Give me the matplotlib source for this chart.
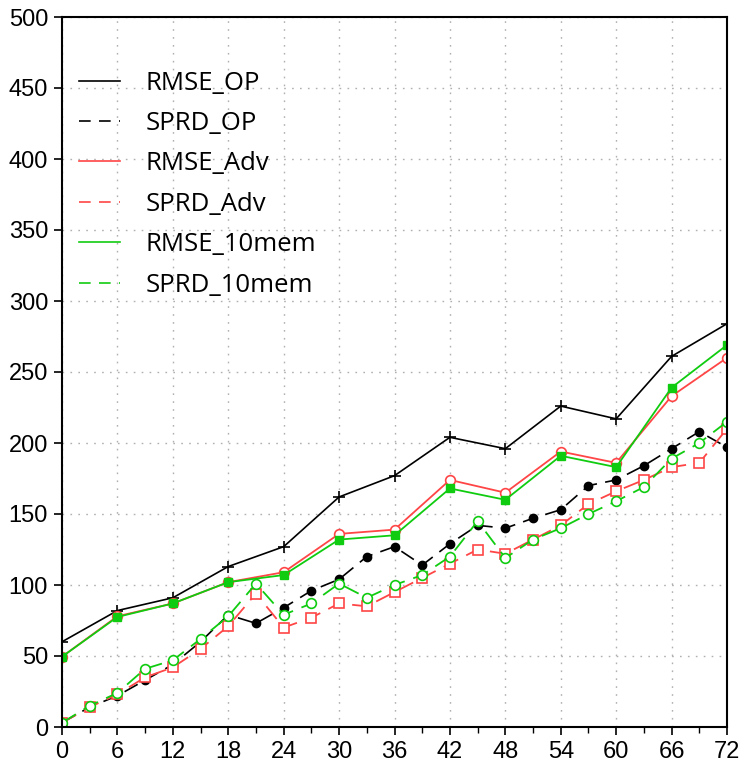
import matplotlib
matplotlib.use("Agg")
import matplotlib.pyplot as plt
from matplotlib.lines import Line2D
from matplotlib.ticker import MultipleLocator

hours6 = [0, 6, 12, 18, 24, 30, 36, 42, 48, 54, 60, 66, 72]
hours3 = list(range(0, 73, 3))

rmse_op = [60, 82, 91, 113, 127, 162, 177, 204, 196, 226, 217, 261, 284]
rmse_adv = [49.5, 78, 87, 102, 109, 136, 139, 174, 165, 194, 186, 233, 260]
rmse_10mem = [49.5, 77.5, 87, 102, 107, 132, 135, 168, 160, 191, 183, 239, 269]

sprd_op = [3, 14, 22, 33, 44, 60, 79, 73, 84, 96, 104, 120, 127, 114, 129,
           142, 140, 147, 153, 170, 174, 184, 196, 208, 197]
sprd_adv = [3, 14, 23, 35, 42, 55, 71, 94, 70, 77, 87, 85, 95, 105, 115,
            125, 122, 132, 142, 157, 166, 174, 183, 186, 210]
sprd_10mem = [3, 15, 24, 41, 47, 62, 78, 101, 79, 87, 101, 91, 100, 107, 120,
              145, 119, 132, 140, 150, 159, 169, 189, 200, 215]

labels = ["RMSE_OP", "SPRD_OP", "RMSE_Adv", "SPRD_Adv", "RMSE_10mem", "SPRD_10mem"]

RED = "#ff4545"
GREEN = "#10cc10"
dash = (0, (9, 5))

fig = plt.figure(figsize=(7.4, 7.67), dpi=100)
ax = fig.add_axes([62/740, 40/767, 665/740, 710/767])

ax.plot(hours6, rmse_op, color="black", lw=1.2, marker="+", ms=8, mew=1.2)
ax.plot(hours3, sprd_op, color="black", lw=1.2, ls=dash, marker="o", ms=6)
ax.plot(hours6, rmse_adv, color=RED, lw=1.3, marker="o", ms=7, mfc="white", mec=RED, mew=1.2)
ax.plot(hours3, sprd_adv, color=RED, lw=1.3, ls=dash, marker="s", ms=7, mfc="white", mec=RED, mew=1.2)
ax.plot(hours6, rmse_10mem, color=GREEN, lw=1.3, marker="s", ms=6, mfc=GREEN, mec=GREEN)
ax.plot(hours3, sprd_10mem, color=GREEN, lw=1.3, ls=dash, marker="o", ms=7, mfc="white", mec=GREEN, mew=1.2)

ax.set_xlim(0, 72)
ax.set_ylim(0, 500)
ax.xaxis.set_major_locator(MultipleLocator(6))
ax.xaxis.set_minor_locator(MultipleLocator(3))
ax.yaxis.set_major_locator(MultipleLocator(50))
ax.grid(True, which="major", color="#b0b0b0", ls=(0, (1.2, 4.5)), lw=1)
ax.tick_params(which="major", direction="out", length=6, width=1.2, pad=4)
ax.tick_params(which="minor", direction="out", length=4, width=1)
for s in ax.spines.values():
    s.set_linewidth(1.5)

for lab in ax.get_xticklabels() + ax.get_yticklabels():
    lab.set_fontfamily(["Liberation Sans", "DejaVu Sans"])
    lab.set_fontsize(17)

handles = [
    Line2D([], [], color="black", lw=1.2),
    Line2D([], [], color="black", lw=1.2, ls=(0, (7, 5))),
    Line2D([], [], color=RED, lw=1.2),
    Line2D([], [], color=RED, lw=1.2, ls=(0, (7, 5))),
    Line2D([], [], color=GREEN, lw=1.2),
    Line2D([], [], color=GREEN, lw=1.2, ls=(0, (7, 5))),
]
leg = ax.legend(handles, labels, loc="upper left", bbox_to_anchor=(-0.009, 0.957),
                frameon=False, prop=dict(family=["Open Sans", "DejaVu Sans"], size=18.5),
                handlelength=1.6, handletextpad=1.0, labelspacing=0.6, borderpad=0.4)

fig.savefig("out.png", dpi=100)
